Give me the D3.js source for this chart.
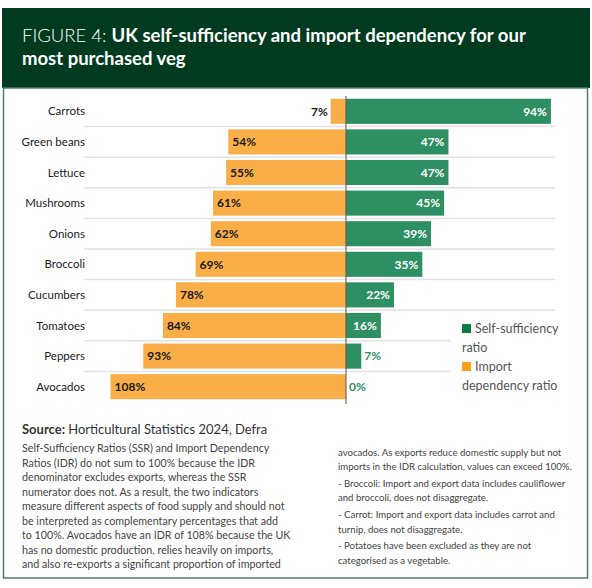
<!DOCTYPE html>
<html>
<head>
<meta charset="utf-8">
<script src="https://cdn.jsdelivr.net/npm/d3@7"></script>
<style>
  body { margin: 0; background: #fff; }
  svg { display: block; font-family: Lato, "Open Sans", sans-serif; }
</style>
</head>
<body>
<svg id="chart" width="592" height="588"></svg>
<script>
const categories = ["Carrots", "Green beans", "Lettuce", "Mushrooms", "Onions", "Broccoli", "Cucumbers", "Tomatoes", "Peppers", "Avocados"];
const selfSufficiency = [94, 47, 47, 45, 39, 35, 22, 16, 7, 0];
const importDependency = [7, 54, 55, 61, 62, 69, 78, 84, 93, 108];
const legendLabels = [["Self-sufficiency", "ratio"], ["Import", "dependency ratio"]];

const notesLeft = [
    "Self-Sufficiency Ratios (SSR) and Import Dependency",
    "Ratios (IDR) do not sum to 100% because the IDR",
    "denominator excludes exports, whereas the SSR",
    "numerator does not. As a result, the two indicators",
    "measure different aspects of food supply and should not",
    "be interpreted as complementary percentages that add",
    "to 100%. Avocados have an IDR of 108% because the UK",
    "has no domestic production, relies heavily on imports,",
    "and also re-exports a significant proportion of imported"
];
const notesRight = [
    ["avocados. As exports reduce domestic supply but not", "imports in the IDR calculation, values can exceed 100%."],
    ["- Broccoli: Import and export data includes cauliflower", "and broccoli, does not disaggregate."],
    ["- Carrot: Import and export data includes carrot and", "turnip, does not disaggregate."],
    ["- Potatoes have been excluded as they are not", "categorised as a vegetable."]
];

const green = "#2e8f63", orange = "#f9ae48";
const svg = d3.select("#chart");

// header + frame
svg.append("rect").attr("x", 2).attr("y", 8).attr("width", 588).attr("height", 80).attr("fill", "#013b1f");
svg.append("rect").attr("x", 3.5).attr("y", 88).attr("width", 584).attr("height", 490)
    .attr("fill", "none").attr("stroke", "#4f7d66").attr("stroke-width", 1.5);

const title = svg.append("text").attr("x", 22).attr("y", 42).attr("fill", "#fff").style("font-size", "18.5px");
title.append("tspan").attr("font-weight", 300).text("FIGURE 4: ");
title.append("tspan").attr("font-weight", 700).text("UK self-sufficiency and import dependency for our");
svg.append("text").attr("x", 22).attr("y", 65).attr("fill", "#fff").attr("font-weight", 700)
    .style("font-size", "18.5px").text("most purchased veg");

// scales
const x = d3.scaleLinear().domain([-110, 100]).range([346 - 110 * 2.18, 346 + 100 * 2.18]);
const y = d3.scaleBand().domain(categories).range([96, 402]).paddingInner(0.18).paddingOuter(0.09);
const step = y.step(), bw = y.bandwidth();

// row separators
const seps = categories.slice(0, -1);
svg.append("g").selectAll("line").data(seps).join("line")
    .attr("x1", 84)
    .attr("x2", (d, i) => i >= 7 ? 451 : 555)
    .attr("y1", d => y(d) + bw + (step - bw) / 2)
    .attr("y2", d => y(d) + bw + (step - bw) / 2)
    .attr("stroke", "#e2e2e2").attr("stroke-width", 1.5);

// bars
const rows = categories.map((c, i) => ({c, ssr: selfSufficiency[i], idr: importDependency[i]}));

svg.append("g").selectAll("rect").data(rows).join("rect")
    .attr("x", d => x(-d.idr)).attr("y", d => y(d.c))
    .attr("width", d => x(0) - x(-d.idr)).attr("height", bw)
    .attr("fill", orange);

svg.append("g").selectAll("rect").data(rows).join("rect")
    .attr("x", x(0)).attr("y", d => y(d.c))
    .attr("width", d => x(d.ssr) - x(0)).attr("height", bw)
    .attr("fill", green);

svg.append("line").attr("x1", x(0)).attr("x2", x(0)).attr("y1", 96).attr("y2", 404)
    .attr("stroke", "#555").attr("stroke-width", 1);

// category labels
svg.append("g").selectAll("text").data(rows).join("text")
    .attr("x", 85).attr("y", d => y(d.c) + bw / 2).attr("dy", "0.35em")
    .attr("text-anchor", "end").attr("fill", "#222").style("font-size", "11.5px")
    .text(d => d.c);

// value labels
svg.append("g").selectAll("text").data(rows).join("text")
    .attr("x", d => d.idr < 20 ? x(-d.idr) - 3 : x(-d.idr) + 4)
    .attr("text-anchor", d => d.idr < 20 ? "end" : "start")
    .attr("y", d => y(d.c) + bw / 2).attr("dy", "0.36em")
    .attr("fill", "#1a1a1a").attr("font-weight", 700).style("font-size", "12px")
    .text(d => d.idr + "%");

svg.append("g").selectAll("text").data(rows).join("text")
    .attr("x", d => d.ssr < 10 ? x(d.ssr) + 3 : x(d.ssr) - 4)
    .attr("text-anchor", d => d.ssr < 10 ? "start" : "end")
    .attr("y", d => y(d.c) + bw / 2).attr("dy", "0.36em")
    .attr("fill", d => d.ssr < 10 ? green : "#fff").attr("font-weight", 700).style("font-size", "12px")
    .text(d => d.ssr + "%");

// legend
const legend = svg.append("g").selectAll("g").data(legendLabels).join("g")
    .attr("transform", (d, i) => `translate(462, ${329 + i * 38})`);
legend.append("rect").attr("x", 0).attr("y", -5).attr("width", 9).attr("height", 9)
    .attr("fill", (d, i) => i === 0 ? "#0b7a41" : "#f7a21b");
legend.append("text").attr("x", 13).attr("dy", "0.35em").attr("fill", "#555")
    .style("font-size", "12.5px").text(d => d[0]);
legend.append("text").attr("x", 0).attr("y", 19).attr("dy", "0.35em").attr("fill", "#555")
    .style("font-size", "12.5px").text(d => d[1]);

// source + notes
const src = svg.append("text").attr("x", 22).attr("y", 434).attr("fill", "#333").style("font-size", "13px");
src.append("tspan").attr("font-weight", 700).text("Source: ");
src.append("tspan").text("Horticultural Statistics 2024, Defra");

svg.append("g").selectAll("text").data(notesLeft).join("text")
    .attr("x", 22).attr("y", (d, i) => 452 + i * 14.5)
    .attr("fill", "#444").style("font-size", "10.7px").text(d => d);

let yy = 456;
notesRight.forEach((para) => {
    para.forEach((line) => {
        svg.append("text").attr("x", 338).attr("y", yy)
            .attr("fill", "#444").style("font-size", "9.6px").text(line);
        yy += 14.3;
    });
    yy += 2.5;
});
</script>
</body>
</html>
